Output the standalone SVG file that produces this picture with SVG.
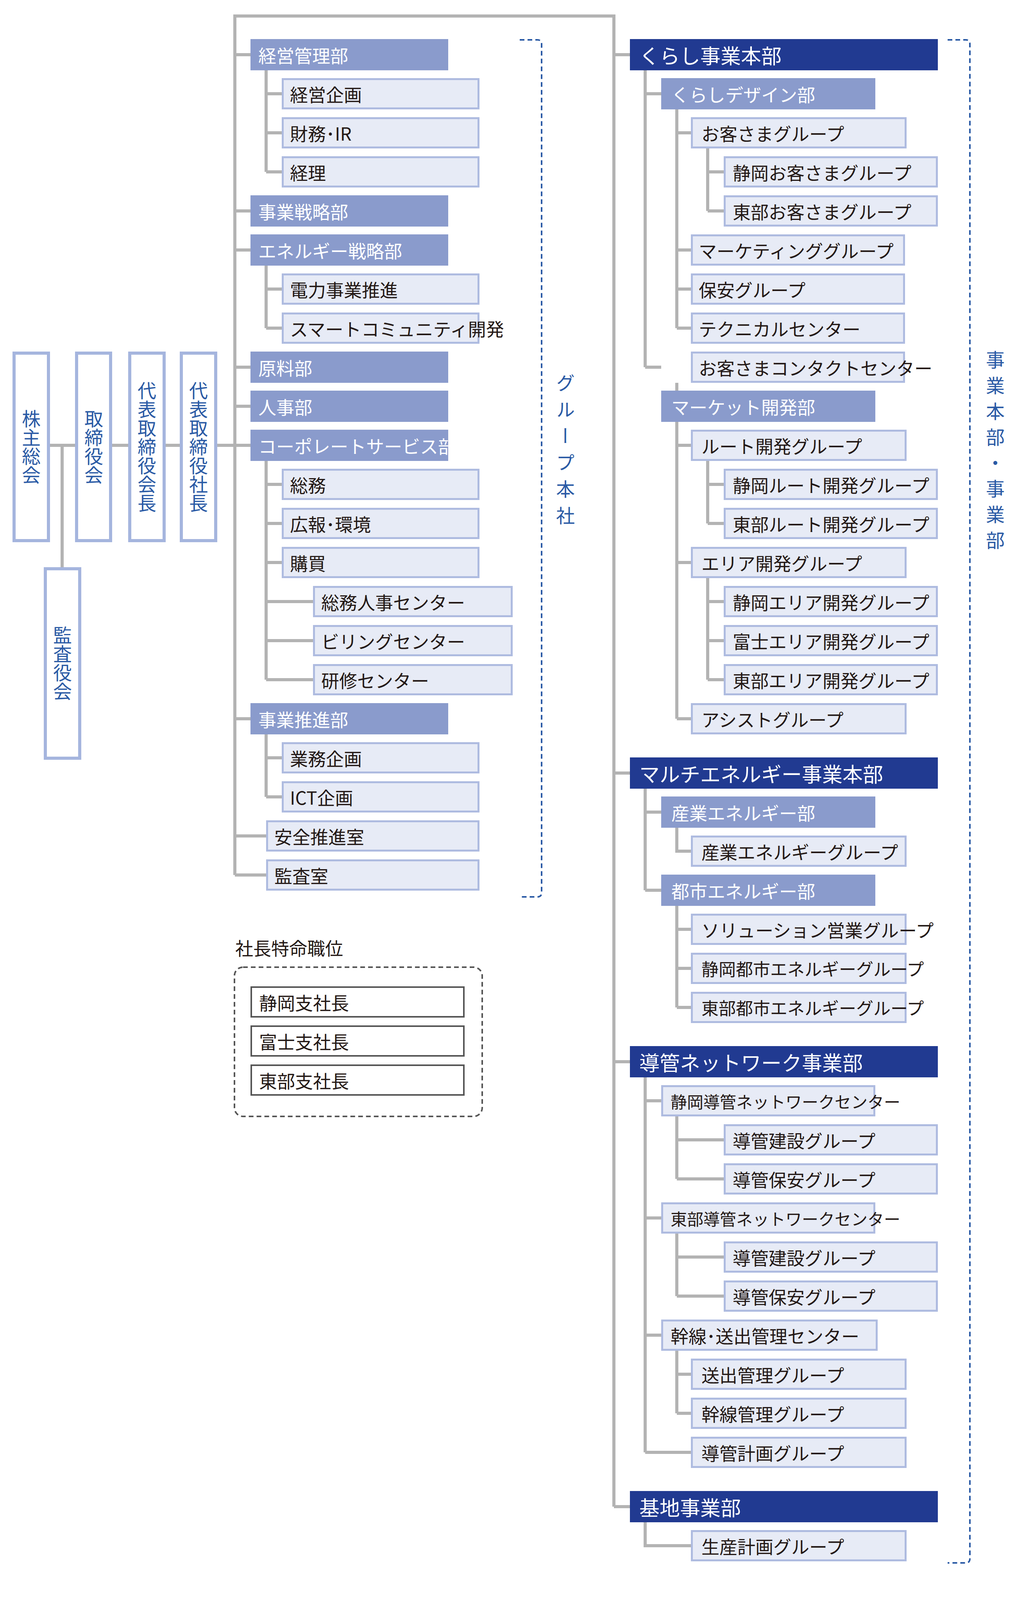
<svg xmlns="http://www.w3.org/2000/svg" width="2600" height="4120" viewBox="0 0 2600 4120">
<style>
text{font-family:"Noto Sans CJK JP","Noto Sans",sans-serif;}
.ln{stroke:#b3b3b3;stroke-width:8;fill:none;}
.nv{fill:#213a91;}
.md{fill:#8a9bcc;}
.lt{fill:#e7ebf6;stroke:#aebbe0;stroke-width:5;}
.vb{fill:#fff;stroke:#a5b5de;stroke-width:8;}
.sp{fill:#fff;stroke:#555;stroke-width:4;}
.tw{fill:#fff;font-size:46px;dominant-baseline:central;}
.tn{fill:#fff;font-size:52px;dominant-baseline:central;}
.td{fill:#231815;font-size:46px;dominant-baseline:central;}
.tv{fill:#2a5aa5;font-size:48px;writing-mode:vertical-rl;text-anchor:middle;}
.br{fill:none;stroke:#2a5aa5;stroke-width:4;stroke-dasharray:12 8;}
</style>
<g id="connectors">
<path class="ln" d="M128,1140H604M159,1140V1456"/>
<path class="ln" d="M601,2240V41H1571V3857"/>
<path class="ln" d="M601,140H641M601,540H641M601,640H641M601,940H641M601,1040H641M601,1140H641M601,1840H641M601,2140H681M601,2240H681"/>
<path class="ln" d="M681,180V440M681,240H721M681,340H721M681,440H721"/>
<path class="ln" d="M681,680V840M681,740H721M681,840H721"/>
<path class="ln" d="M681,1180V1740M681,1240H721M681,1340H721M681,1440H721M681,1540H801M681,1640H801M681,1740H801"/>
<path class="ln" d="M681,1880V2040M681,1940H721M681,2040H721"/>
<path class="ln" d="M1571,140H1612M1571,1979H1612M1571,2718H1612M1571,3857H1612"/>
<path class="ln" d="M1651,180V940M1651,240H1692M1651,940H1692"/>
<path class="ln" d="M1732,280V840M1732,340H1768M1732,640H1768M1732,740H1768M1732,840H1768M1732,940"/>
<path class="ln" d="M1811,380V540M1811,440H1852M1811,540H1852"/>
<path class="ln" d="M1732,980V1840M1732,1140H1768M1732,1440H1768M1732,1840H1768"/>
<path class="ln" d="M1811,1180V1340M1811,1240H1852M1811,1340H1852"/>
<path class="ln" d="M1811,1480V1740M1811,1540H1852M1811,1640H1852M1811,1740H1852"/>
<path class="ln" d="M1651,2019V2279M1651,2079H1692M1651,2279H1692"/>
<path class="ln" d="M1732,2119V2179H1768M1732,2319V2579M1732,2379H1768M1732,2479H1768M1732,2579H1768"/>
<path class="ln" d="M1651,2758V3718M1651,2818H1692M1651,3118H1692M1651,3418H1692M1651,3718H1768"/>
<path class="ln" d="M1732,2858V3018M1732,2918H1852M1732,3018H1852"/>
<path class="ln" d="M1732,3158V3318M1732,3218H1852M1732,3318H1852"/>
<path class="ln" d="M1732,3458V3618M1732,3518H1768M1732,3618H1768"/>
<path class="ln" d="M1651,3897V3957H1768"/>
</g>
<g id="top">
<g id="kabunushi"><rect class="vb" x="36" y="904" width="88" height="480"/><text class="tv" x="80" y="1144">株主総会</text></g>
<g id="torishimariyakukai"><rect class="vb" x="196" y="904" width="87" height="480"/><text class="tv" x="240" y="1144">取締役会</text></g>
<g id="kaicho"><rect class="vb" x="332" y="904" width="88" height="480"/><text class="tv" x="376" y="1144">代表取締役会長</text></g>
<g id="shacho"><rect class="vb" x="464" y="904" width="88" height="480"/><text class="tv" x="508" y="1144">代表取締役社長</text></g>
<g id="kansayakukai"><rect class="vb" x="116" y="1456" width="88" height="485"/><text class="tv" x="160" y="1698">監査役会</text></g>
</g>
<g id="left">
<g><rect class="md" x="641" y="100" width="506" height="80"/><text class="tw" x="661" y="140">経営管理部</text></g>
<g><rect class="lt" x="723.5" y="202.5" width="501" height="75"/><text class="td" x="742" y="240">経営企画</text></g>
<g><rect class="lt" x="723.5" y="302.5" width="501" height="75"/><text class="td" x="742" y="340">財務･IR</text></g>
<g><rect class="lt" x="723.5" y="402.5" width="501" height="75"/><text class="td" x="742" y="440">経理</text></g>
<g><rect class="md" x="641" y="500" width="506" height="80"/><text class="tw" x="661" y="540">事業戦略部</text></g>
<g><rect class="md" x="641" y="600" width="506" height="80"/><text class="tw" x="661" y="640">エネルギー戦略部</text></g>
<g><rect class="lt" x="723.5" y="702.5" width="501" height="75"/><text class="td" x="742" y="740">電力事業推進</text></g>
<g><rect class="lt" x="723.5" y="802.5" width="501" height="75"/><text class="td" x="742" y="840">スマートコミュニティ開発</text></g>
<g><rect class="md" x="641" y="900" width="506" height="80"/><text class="tw" x="661" y="940">原料部</text></g>
<g><rect class="md" x="641" y="1000" width="506" height="80"/><text class="tw" x="661" y="1040">人事部</text></g>
<g><rect class="md" x="641" y="1100" width="506" height="80"/><text class="tw" x="661" y="1140">コーポレートサービス部</text></g>
<g><rect class="lt" x="723.5" y="1202.5" width="501" height="75"/><text class="td" x="742" y="1240">総務</text></g>
<g><rect class="lt" x="723.5" y="1302.5" width="501" height="75"/><text class="td" x="742" y="1340">広報･環境</text></g>
<g><rect class="lt" x="723.5" y="1402.5" width="501" height="75"/><text class="td" x="742" y="1440">購買</text></g>
<g><rect class="lt" x="803.5" y="1502.5" width="506" height="75"/><text class="td" x="822" y="1540">総務人事センター</text></g>
<g><rect class="lt" x="803.5" y="1602.5" width="506" height="75"/><text class="td" x="822" y="1640">ビリングセンター</text></g>
<g><rect class="lt" x="803.5" y="1702.5" width="506" height="75"/><text class="td" x="822" y="1740">研修センター</text></g>
<g><rect class="md" x="641" y="1800" width="506" height="80"/><text class="tw" x="661" y="1840">事業推進部</text></g>
<g><rect class="lt" x="723.5" y="1902.5" width="501" height="75"/><text class="td" x="742" y="1940">業務企画</text></g>
<g><rect class="lt" x="723.5" y="2002.5" width="501" height="75"/><text class="td" x="742" y="2040">ICT企画</text></g>
<g><rect class="lt" x="683.5" y="2102.5" width="541" height="75"/><text class="td" x="702" y="2140">安全推進室</text></g>
<g><rect class="lt" x="683.5" y="2202.5" width="541" height="75"/><text class="td" x="702" y="2240">監査室</text></g>
</g>
<g id="group-hq">
<path class="br" d="M1330,102H1375Q1386,102 1386,113V2285Q1386,2296 1375,2296H1330"/>
<text class="tv" x="1447" y="1160" style="letter-spacing:20px">グループ本社</text>
</g>
<g id="special">
<text class="td" x="602" y="2425" style="dominant-baseline:central">社長特命職位</text>
<rect x="600" y="2476" width="634" height="382" rx="22" fill="none" stroke="#555" stroke-width="4" stroke-dasharray="12 8"/>
<g><rect class="sp" x="643" y="2527" width="544" height="76"/><text class="td" x="663" y="2565">静岡支社長</text></g>
<g><rect class="sp" x="643" y="2627" width="544" height="76"/><text class="td" x="663" y="2665">富士支社長</text></g>
<g><rect class="sp" x="643" y="2727" width="544" height="76"/><text class="td" x="663" y="2765">東部支社長</text></g>
</g>
<g id="right">
<g><rect class="nv" x="1612" y="100" width="788" height="80"/><text class="tn" x="1636" y="140">くらし事業本部</text></g>
<g><rect class="md" x="1692" y="200" width="548" height="80"/><text class="tw" x="1718" y="240">くらしデザイン部</text></g>
<g><rect class="lt" x="1770.5" y="302.5" width="547" height="75"/><text class="td" x="1795" y="340">お客さまグループ</text></g>
<g><rect class="lt" x="1854.5" y="402.5" width="543" height="75"/><text class="td" x="1875" y="440">静岡お客さまグループ</text></g>
<g><rect class="lt" x="1854.5" y="502.5" width="543" height="75"/><text class="td" x="1875" y="540">東部お客さまグループ</text></g>
<g><rect class="lt" x="1770.5" y="602.5" width="543" height="75"/><text class="td" x="1788" y="640">マーケティンググループ</text></g>
<g><rect class="lt" x="1770.5" y="702.5" width="543" height="75"/><text class="td" x="1788" y="740">保安グループ</text></g>
<g><rect class="lt" x="1770.5" y="802.5" width="543" height="75"/><text class="td" x="1788" y="840">テクニカルセンター</text></g>
<g><rect class="lt" x="1770.5" y="902.5" width="543" height="75"/><text class="td" x="1788" y="940">お客さまコンタクトセンター</text></g>
<g><rect class="md" x="1692" y="1000" width="548" height="80"/><text class="tw" x="1718" y="1040">マーケット開発部</text></g>
<g><rect class="lt" x="1770.5" y="1102.5" width="547" height="75"/><text class="td" x="1795" y="1140">ルート開発グループ</text></g>
<g><rect class="lt" x="1854.5" y="1202.5" width="543" height="75"/><text class="td" x="1875" y="1240">静岡ルート開発グループ</text></g>
<g><rect class="lt" x="1854.5" y="1302.5" width="543" height="75"/><text class="td" x="1875" y="1340">東部ルート開発グループ</text></g>
<g><rect class="lt" x="1770.5" y="1402.5" width="547" height="75"/><text class="td" x="1795" y="1440">エリア開発グループ</text></g>
<g><rect class="lt" x="1854.5" y="1502.5" width="543" height="75"/><text class="td" x="1875" y="1540">静岡エリア開発グループ</text></g>
<g><rect class="lt" x="1854.5" y="1602.5" width="543" height="75"/><text class="td" x="1875" y="1640">富士エリア開発グループ</text></g>
<g><rect class="lt" x="1854.5" y="1702.5" width="543" height="75"/><text class="td" x="1875" y="1740">東部エリア開発グループ</text></g>
<g><rect class="lt" x="1770.5" y="1802.5" width="547" height="75"/><text class="td" x="1795" y="1840">アシストグループ</text></g>

<g><rect class="nv" x="1612" y="1939" width="788" height="80"/><text class="tn" x="1636" y="1979">マルチエネルギー事業本部</text></g>
<g><rect class="md" x="1692" y="2039" width="548" height="80"/><text class="tw" x="1718" y="2079">産業エネルギー部</text></g>
<g><rect class="lt" x="1770.5" y="2141.5" width="547" height="75"/><text class="td" x="1795" y="2179">産業エネルギーグループ</text></g>
<g><rect class="md" x="1692" y="2239" width="548" height="80"/><text class="tw" x="1718" y="2279">都市エネルギー部</text></g>
<g><rect class="lt" x="1770.5" y="2341.5" width="547" height="75"/><text class="td" x="1795" y="2379">ソリューション営業グループ</text></g>
<g><rect class="lt" x="1770.5" y="2441.5" width="547" height="75"/><text class="td" x="1795" y="2479" style="font-size:44px">静岡都市エネルギーグループ</text></g>
<g><rect class="lt" x="1770.5" y="2541.5" width="547" height="75"/><text class="td" x="1795" y="2579" style="font-size:44px">東部都市エネルギーグループ</text></g>

<g><rect class="nv" x="1612" y="2678" width="788" height="80"/><text class="tn" x="1636" y="2718">導管ネットワーク事業部</text></g>
<g><rect class="lt" x="1694.5" y="2780.5" width="543" height="75"/><text class="td" x="1716" y="2818" style="font-size:42px">静岡導管ネットワークセンター</text></g>
<g><rect class="lt" x="1854.5" y="2880.5" width="543" height="75"/><text class="td" x="1875" y="2918">導管建設グループ</text></g>
<g><rect class="lt" x="1854.5" y="2980.5" width="543" height="75"/><text class="td" x="1875" y="3018">導管保安グループ</text></g>
<g><rect class="lt" x="1694.5" y="3080.5" width="543" height="75"/><text class="td" x="1716" y="3118" style="font-size:42px">東部導管ネットワークセンター</text></g>
<g><rect class="lt" x="1854.5" y="3180.5" width="543" height="75"/><text class="td" x="1875" y="3218">導管建設グループ</text></g>
<g><rect class="lt" x="1854.5" y="3280.5" width="543" height="75"/><text class="td" x="1875" y="3318">導管保安グループ</text></g>
<g><rect class="lt" x="1694.5" y="3380.5" width="549" height="75"/><text class="td" x="1716" y="3418">幹線･送出管理センター</text></g>
<g><rect class="lt" x="1770.5" y="3480.5" width="547" height="75"/><text class="td" x="1795" y="3518">送出管理グループ</text></g>
<g><rect class="lt" x="1770.5" y="3580.5" width="547" height="75"/><text class="td" x="1795" y="3618">幹線管理グループ</text></g>
<g><rect class="lt" x="1770.5" y="3680.5" width="547" height="75"/><text class="td" x="1795" y="3718">導管計画グループ</text></g>

<g><rect class="nv" x="1612" y="3817" width="788" height="80"/><text class="tn" x="1636" y="3857">基地事業部</text></g>
<g><rect class="lt" x="1770.5" y="3919.5" width="547" height="75"/><text class="td" x="1795" y="3957">生産計画グループ</text></g>
</g>
<g id="business">
<path class="br" d="M2425,102H2471Q2482,102 2482,113V3990Q2482,4001 2471,4001H2425"/>
<text class="tv" x="2547" y="1161" style="letter-spacing:18px">事業本部・事業部</text>
</g>
</svg>
